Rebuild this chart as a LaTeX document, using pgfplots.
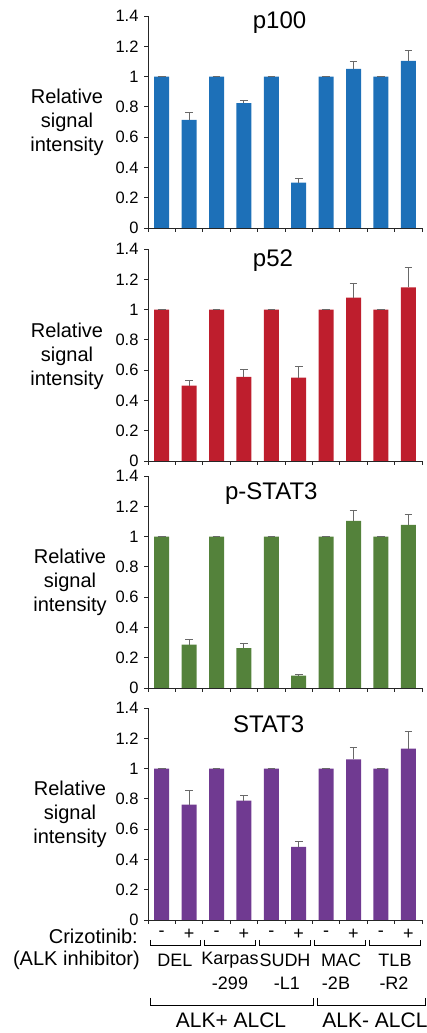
\documentclass[border=0pt]{standalone}
\usepackage{pgfplots}
\pgfplotsset{compat=1.18}
\usepackage{fontspec}
\setmainfont{Liberation Sans}
\definecolor{cblue}{RGB}{29,112,184}
\definecolor{cred}{RGB}{190,30,45}
\definecolor{cgreen}{RGB}{84,130,59}
\definecolor{cpurple}{RGB}{112,58,145}
\definecolor{errc}{RGB}{105,105,105}
\pgfplotsset{
 panel/.style={
  scale only axis, width=274pt, height=212pt,
  xmin=0.5, xmax=10.5, ymin=0, ymax=1.4,
  axis x line*=bottom, axis y line*=left,
  axis line style={black!85, line width=0.8pt},
  xtick={0.5,1.5,...,10.5}, xticklabels={},
  ytick={0,0.2,0.4,0.6,0.8,1,1.2,1.4},
  yticklabels={0,0.2,0.4,0.6,0.8,1,1.2,1.4},
  tick align=outside, major tick length=4pt,
  tick style={black!85, line width=0.8pt},
  yticklabel style={font=\fontsize{16.5}{18}\selectfont, xshift=-2pt},
  clip=false,
 },
 bars/.style={ybar, bar width=15pt, fill=#1, draw=none, bar shift=0pt,
   error bars/y dir=plus, error bars/y explicit,
   error bars/error mark=-,
   error bars/error bar style={errc, line width=1pt},
   error bars/error mark options={errc, line width=1pt, mark size=3.8pt, rotate=90}},
}
\newcommand{\ttl}[1]{\fontsize{24}{26}\selectfont #1}
\tikzset{rsi/.style={align=center, font=\fontsize{20}{24}\selectfont}}
\begin{document}
\begin{tikzpicture}
\path[use as bounding box] (0,0) rectangle (426pt,1033pt);
% p100
\begin{axis}[panel, at={(148pt,805pt)}, anchor=south west]
\addplot[bars=cblue] coordinates {(1,1) +- (0,0.003) (2,0.714) +- (0,0.049) (3,1) +- (0,0.003) (4,0.824) +- (0,0.018) (5,1) +- (0,0.003) (6,0.299) +- (0,0.028) (7,1) +- (0,0.003) (8,1.05) +- (0,0.049) (9,1) +- (0,0.003) (10,1.103) +- (0,0.068)};
\node at (rel axis cs:0.48,0.97) {\ttl{p100}};
\end{axis}
% p52
\begin{axis}[panel, at={(148pt,572pt)}, anchor=south west]
\addplot[bars=cred] coordinates {(1,1) +- (0,0.003) (2,0.497) +- (0,0.035) (3,1) +- (0,0.003) (4,0.556) +- (0,0.051) (5,1) +- (0,0.003) (6,0.550) +- (0,0.077) (7,1) +- (0,0.003) (8,1.079) +- (0,0.091) (9,1) +- (0,0.003) (10,1.146) +- (0,0.130)};
\node at (rel axis cs:0.456,0.943) {\ttl{p52}};
\end{axis}
% p-STAT3
\begin{axis}[panel, at={(148pt,345pt)}, anchor=south west]
\addplot[bars=cgreen] coordinates {(1,1) +- (0,0.003) (2,0.286) +- (0,0.033) (3,1) +- (0,0.003) (4,0.264) +- (0,0.033) (5,1) +- (0,0.003) (6,0.081) +- (0,0.009) (7,1) +- (0,0.003) (8,1.103) +- (0,0.071) (9,1) +- (0,0.003) (10,1.077) +- (0,0.072)};
\node at (rel axis cs:0.45,0.915) {\ttl{p-STAT3}};
\end{axis}
% STAT3
\begin{axis}[panel, at={(148pt,113pt)}, anchor=south west]
\addplot[bars=cpurple] coordinates {(1,1) +- (0,0.003) (2,0.762) +- (0,0.090) (3,1) +- (0,0.003) (4,0.788) +- (0,0.035) (5,1) +- (0,0.003) (6,0.483) +- (0,0.036) (7,1) +- (0,0.003) (8,1.060) +- (0,0.081) (9,1) +- (0,0.003) (10,1.132) +- (0,0.115)};
\node at (rel axis cs:0.44,0.925) {\ttl{STAT3}};
\end{axis}
% y labels
\node[rsi] at (67pt,911pt) {Relative\\signal\\intensity};
\node[rsi] at (67pt,677pt) {Relative\\signal\\intensity};
\node[rsi] at (70pt,451pt) {Relative\\signal\\intensity};
\node[rsi] at (70pt,219pt) {Relative\\signal\\intensity};
% bottom annotation
\begin{scope}[font=\fontsize{18}{20}\selectfont]
\foreach \i/\s in {1/-,2/+,3/-,4/+,5/-,6/+,7/-,8/+,9/-,10/+}
  \node at ({148pt+27.4pt*(\i-0.5)}, 99pt) {\s};
\foreach \k in {0,...,4}
  \draw[line width=0.8pt] ({148pt+54.8pt*\k+2pt},93pt) -- ({148pt+54.8pt*\k+2pt},88pt) -- ({148pt+54.8pt*(\k+1)-2pt},88pt) -- ({148pt+54.8pt*(\k+1)-2pt},93pt);
\node at (175pt,73pt) {DEL};
\node at (230pt,73pt) {Karpas};
\node at (285pt,73pt) {SUDH};
\node at (341pt,73pt) {MAC};
\node at (395pt,73pt) {TLB};
\node at (230pt,50pt) {-299};
\node at (287pt,50pt) {-L1};
\node at (336pt,50pt) {-2B};
\node at (394pt,50pt) {-R2};
\end{scope}
\node[anchor=east, inner sep=0pt, font=\fontsize{20}{22}\selectfont] at (138pt,97pt) {Crizotinib:};
\node[anchor=east, inner sep=0pt, font=\fontsize{20}{22}\selectfont] at (140pt,73pt) {(ALK inhibitor)};
\draw[line width=0.8pt] (150pt,35pt) -- (150pt,28pt) -- (313pt,28pt) -- (313pt,35pt);
\draw[line width=0.8pt] (317pt,35pt) -- (317pt,28pt) -- (425pt,28pt) -- (425pt,35pt);
\node[font=\fontsize{21}{23}\selectfont] at (231pt,13pt) {ALK+ ALCL};
\node[font=\fontsize{21}{23}\selectfont] at (375pt,13pt) {ALK- ALCL};
\end{tikzpicture}
\end{document}
